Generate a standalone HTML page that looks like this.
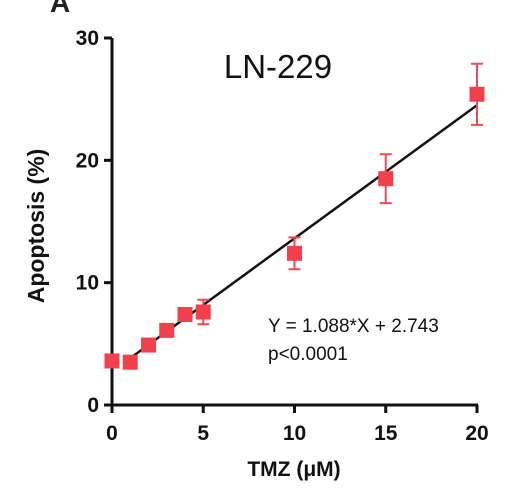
<!DOCTYPE html>
<html><head><meta charset="utf-8"><style>
body{margin:0;background:#fff;width:506px;height:493px;overflow:hidden}
text{font-family:"Liberation Sans",sans-serif}
</style></head><body>
<svg id="chart" width="506" height="493" viewBox="0 0 506 493">
<text x="50" y="12" font-size="28" font-weight="bold" fill="#222">A</text>
<text x="278" y="78" font-size="33" text-anchor="middle" fill="#111">LN-229</text>
<text transform="translate(44,226) rotate(-90)" font-size="23" font-weight="bold" text-anchor="middle" fill="#111">Apoptosis (%)</text>
<text x="294" y="476" font-size="21" font-weight="bold" text-anchor="middle" fill="#111">TMZ (μM)</text>
<text x="268" y="332" font-size="19" fill="#111">Y = 1.088*X + 2.743</text>
<text x="268" y="360" font-size="19" fill="#111">p&lt;0.0001</text>
<g id="axes"></g><g id="marks"></g>
</svg>
<script>
const doses=[0,1,2,3,4,5,10,15,20];
const apoptosis=[3.6,3.5,4.9,6.1,7.4,7.6,12.4,18.5,25.4];
const errors=[0.3,0.3,0.4,0.4,0.5,1.0,1.3,2.0,2.5];
const xTicks=[0,5,10,15,20];
const yTicks=[0,10,20,30];
const slope=1.088, intercept=2.743;
const X=v=>112+v*(477-112)/20, Y=v=>405-v*(405-38)/30;
const ns='http://www.w3.org/2000/svg';
function mk(t,a,p){const e=document.createElementNS(ns,t);for(const k in a)e.setAttribute(k,a[k]);p.appendChild(e);return e;}
const ax=document.getElementById('axes'), mg=document.getElementById('marks');
let e=mk('line',{x1:X(0),y1:Y(0),x2:X(0),y2:Y(30),stroke:'#111','stroke-width':3},ax);

e=mk('line',{x1:X(0)-1,y1:Y(0),x2:X(20)+1,y2:Y(0),stroke:'#111','stroke-width':3},ax);

yTicks.forEach(v=>{
 let t=mk('line',{x1:X(0)-8,y1:Y(v),x2:X(0),y2:Y(v),stroke:'#111','stroke-width':3},ax);
 
 let l=mk('text',{x:X(0)-13,y:Y(v)+7,'font-size':21,'font-weight':'bold','text-anchor':'end',fill:'#111'},ax);l.textContent=v;
 
});
xTicks.forEach(v=>{
 let t=mk('line',{x1:X(v),y1:Y(0),x2:X(v),y2:Y(0)+8,stroke:'#111','stroke-width':3},ax);
 
 let l=mk('text',{x:X(v),y:Y(0)+35,'font-size':21,'font-weight':'bold','text-anchor':'middle',fill:'#111'},ax);l.textContent=v;
 
});
let fl=mk('line',{x1:X(0.8),y1:Y(slope*0.8+intercept),x2:X(20),y2:Y(slope*20+intercept),stroke:'#111','stroke-width':2.5},mg);

doses.forEach((d,i)=>{
 const cx=X(d),cy=Y(apoptosis[i]),hi=Y(apoptosis[i]+errors[i]),lo=Y(apoptosis[i]-errors[i]);
 let eb=mk('path',{d:`M${cx},${hi}V${lo}M${cx-6},${hi}H${cx+6}M${cx-6},${lo}H${cx+6}`,stroke:'#f04a55','stroke-width':2,fill:'none'},mg);
 
 let r=mk('rect',{x:cx-7.5,y:cy-7.5,width:15,height:15,fill:'#f2404c'},mg);
 
});
</script>
</body></html>
